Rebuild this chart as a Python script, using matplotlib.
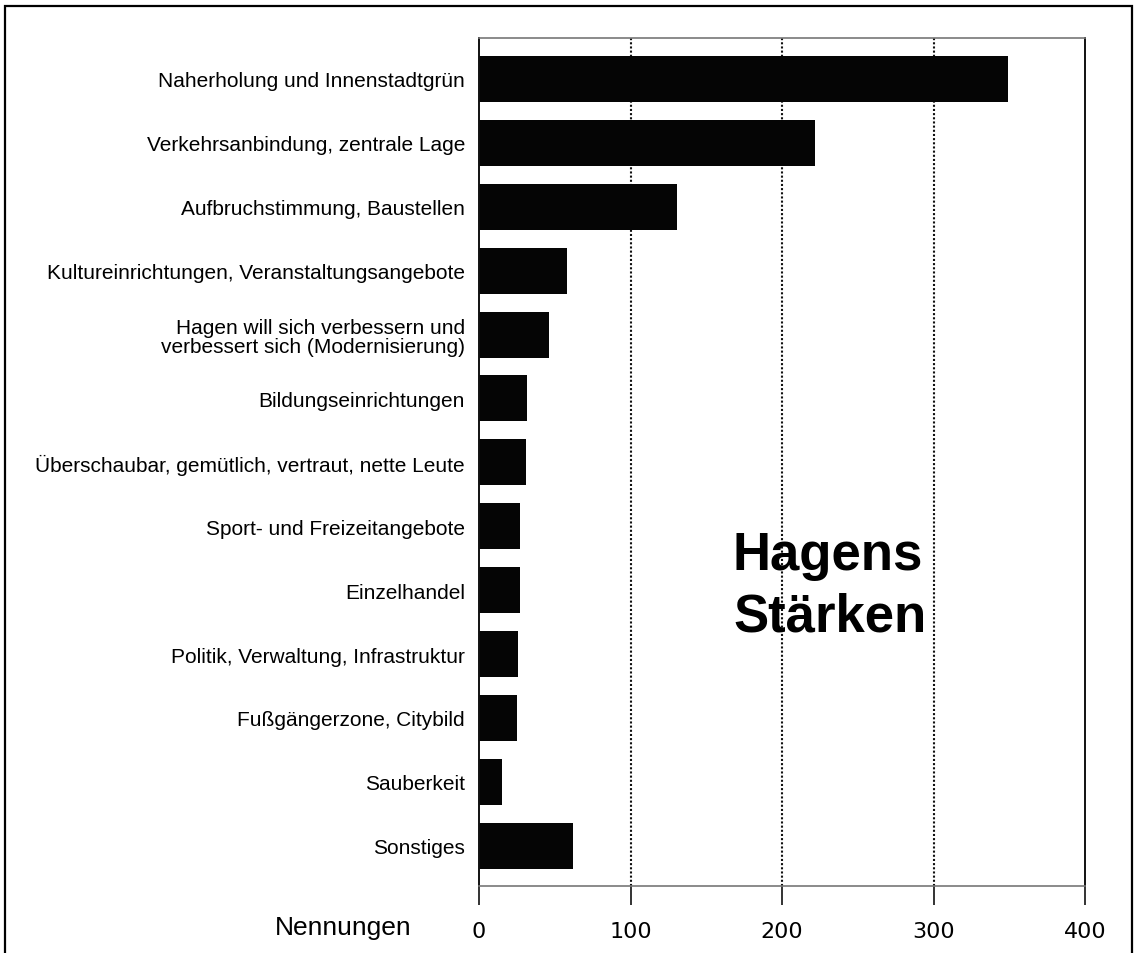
import matplotlib
matplotlib.use('Agg')
import matplotlib.pyplot as plt
from matplotlib.patches import Rectangle

categories = [
    "Naherholung und Innenstadtgrün",
    "Verkehrsanbindung, zentrale Lage",
    "Aufbruchstimmung, Baustellen",
    "Kultureinrichtungen, Veranstaltungsangebote",
    "Hagen will sich verbessern und\nverbessert sich (Modernisierung)",
    "Bildungseinrichtungen",
    "Überschaubar, gemütlich, vertraut, nette Leute",
    "Sport- und Freizeitangebote",
    "Einzelhandel",
    "Politik, Verwaltung, Infrastruktur",
    "Fußgängerzone, Citybild",
    "Sauberkeit",
    "Sonstiges",
]
values = [349, 222, 131, 58, 46, 32, 31, 27, 27, 26, 25, 15, 62]
xticks = [0, 100, 200, 300, 400]
xlabel = "Nennungen"
title_lines = ["Hagens", "Stärken"]

W, H = 1136, 954
fig = plt.figure(figsize=(W / 100, H / 100), dpi=100)
fig.patch.set_facecolor('white')

# outer frame
fig.patches.append(Rectangle((5 / W, -0.05), (1132 - 5) / W, 1.05 - 7 / H,
                             transform=fig.transFigure, fill=False,
                             edgecolor='black', lw=1.6, clip_on=False))

ax = fig.add_axes([479 / W, 1 - 887 / H, (1085 - 479) / W, (887 - 39) / H])
ypos = list(range(len(categories)))
ax.barh(ypos, values, height=0.72, color='#050505', zorder=2)
ax.set_xlim(0, 400)
ax.set_ylim(len(categories) - 1 + 0.63, -0.64)

ax.set_yticks(ypos)
ax.set_yticklabels(categories, fontsize=15, family='Liberation Sans')
for lab in ax.get_yticklabels():
    lab.set_linespacing(1.0)
ax.tick_params(axis='y', length=0, pad=10)

ax.set_xticks(xticks)
ax.set_xticklabels([str(t) for t in xticks], fontsize=16, family='DejaVu Sans')
ax.tick_params(axis='x', length=14, width=1.2, direction='out', pad=11, color='#111111')

for xv in xticks[1:-1]:
    ax.axvline(xv, color='#111111', lw=1.5, ls=(0, (1, 1)), zorder=1)

for side in ['left', 'right']:
    ax.spines[side].set_color('#111111')
    ax.spines[side].set_linestyle((0, (1, 1)))
    ax.spines[side].set_linewidth(1.4)
for side in ['top', 'bottom']:
    ax.spines[side].set_color('#777777')
    ax.spines[side].set_linewidth(1.2)

fig.text(275 / W, 1 - 935 / H, xlabel, fontsize=19, family='Liberation Sans',
         ha='left', va='baseline')

fig.text(733 / W, 1 - 570 / H, title_lines[0], fontsize=38, fontweight='bold',
         family='Liberation Sans', ha='left', va='baseline')
fig.text(733 / W, 1 - 632 / H, title_lines[1], fontsize=38, fontweight='bold',
         family='Liberation Sans', ha='left', va='baseline')

fig.savefig('out.png', dpi=100, facecolor='white')
